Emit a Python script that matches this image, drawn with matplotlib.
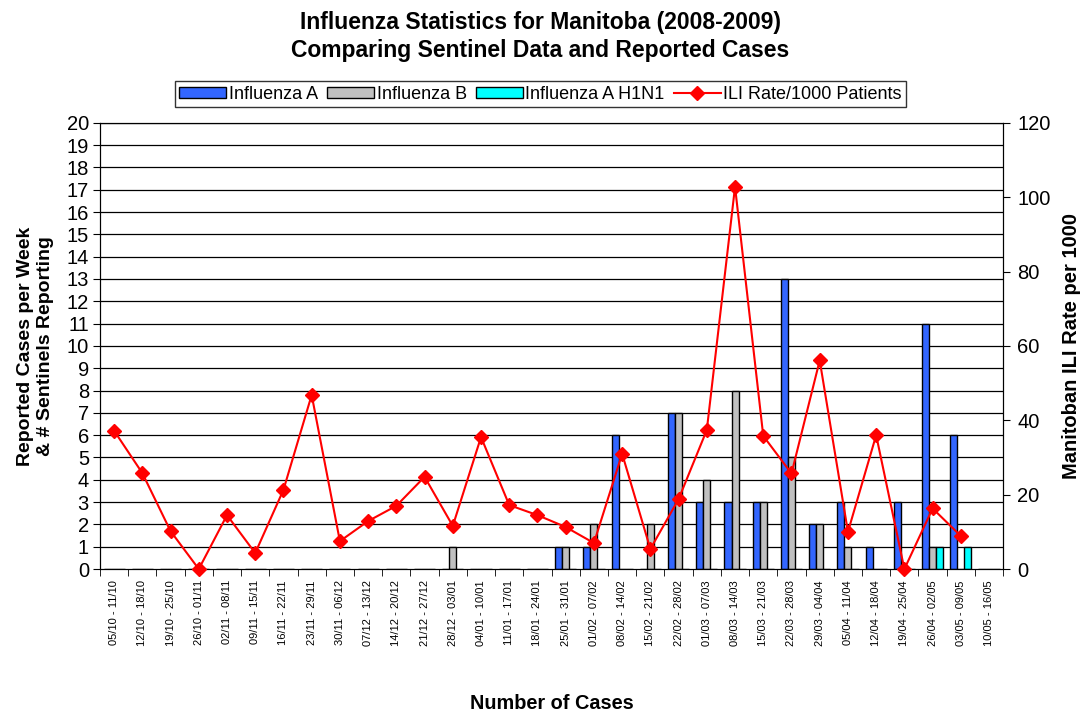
import matplotlib
matplotlib.use('Agg')
import matplotlib.pyplot as plt
import numpy as np

plt.rcParams['font.family'] = ['Liberation Sans', 'DejaVu Sans']

weeks = ['05/10 - 11/10', '12/10 - 18/10', '19/10 - 25/10', '26/10 - 01/11',
         '02/11 - 08/11', '09/11 - 15/11', '16/11 - 22/11', '23/11 - 29/11',
         '30/11 - 06/12', '07/12 - 13/12', '14/12 - 20/12', '21/12 - 27/12',
         '28/12 - 03/01', '04/01 - 10/01', '11/01 - 17/01', '18/01 - 24/01',
         '25/01 - 31/01', '01/02 - 07/02', '08/02 - 14/02', '15/02 - 21/02',
         '22/02 - 28/02', '01/03 - 07/03', '08/03 - 14/03', '15/03 - 21/03',
         '22/03 - 28/03', '29/03 - 04/04', '05/04 - 11/04', '12/04 - 18/04',
         '19/04 - 25/04', '26/04 - 02/05', '03/05 - 09/05', '10/05 - 16/05']

flu_a = [0, 0, 0, 0, 0, 0, 0, 0, 0, 0, 0, 0, 0, 0, 0, 0,
         1, 1, 6, 0, 7, 3, 3, 3, 13, 2, 3, 1, 3, 11, 6, 0]
flu_b = [0, 0, 0, 0, 0, 0, 0, 0, 0, 0, 0, 0, 1, 0, 0, 0,
         1, 2, 0, 2, 7, 4, 8, 3, 5, 2, 1, 0, 0, 1, 0, 0]
flu_h1n1 = [0, 0, 0, 0, 0, 0, 0, 0, 0, 0, 0, 0, 0, 0, 0, 0,
            0, 0, 0, 0, 0, 0, 0, 0, 0, 0, 0, 0, 0, 1, 1, 0]
ili_rate = [37.2, 25.8, 10.2, 0.0, 14.5, 4.3, 21.3, 46.8, 7.5, 12.9, 17.0, 24.8,
            11.6, 35.5, 17.2, 14.5, 11.3, 7.0, 31.0, 5.4, 18.8, 37.4, 102.8, 35.8,
            25.7, 56.1, 10.0, 36.0, 0.0, 16.3, 8.9, np.nan]

x = np.arange(len(weeks))
w = 0.25

fig = plt.figure(figsize=(10.81, 7.14), dpi=100)
ax = fig.add_axes([0.0925, 0.203, 0.8355, 0.625])
ax2 = ax.twinx()

for v in range(1, 21):
    ax.axhline(v, color='black', lw=0.9, zorder=0)

b1 = ax.bar(x - w, flu_a, w, color='#3366FF', edgecolor='black', lw=1, zorder=2)
b2 = ax.bar(x, flu_b, w, color='#C0C0C0', edgecolor='black', lw=1, zorder=2)
b3 = ax.bar(x + w, flu_h1n1, w, color='#00FFFF', edgecolor='black', lw=1, zorder=2)

l1, = ax2.plot(x, ili_rate, color='red', lw=1.5, marker='D', ms=7.5, clip_on=False, zorder=3)

ax.set_xlim(-0.5, len(weeks) - 0.5)
ax.set_ylim(0, 20)
ax2.set_ylim(0, 120)
ax.set_yticks(range(0, 21))
ax2.set_yticks(range(0, 121, 20))

ax.set_xticks(x)
ax.set_xticklabels(weeks, rotation=90, fontsize=8)
ax.set_xticks(np.arange(-0.5, len(weeks)), minor=True)
ax.tick_params(axis='x', which='major', length=0, pad=8)
ax.tick_params(axis='x', which='minor', length=5, direction='out')
ax.tick_params(axis='y', labelsize=14.5, length=5, direction='out', pad=3)
ax2.tick_params(axis='y', labelsize=14.5, length=5, direction='out', pad=5)

ax.set_ylabel('Reported Cases per Week\n& # Sentinels Reporting', fontsize=14, fontweight='bold',
              labelpad=9, linespacing=1.2)
ax2.set_ylabel('Manitoban ILI Rate per 1000', fontsize=14.5, fontweight='bold', labelpad=8)
ax.set_xlabel('Number of Cases', fontsize=14.3, fontweight='bold', labelpad=34)

ax.set_zorder(0)
ax2.set_zorder(1)
ax2.patch.set_visible(False)

fig.suptitle('Influenza Statistics for Manitoba (2008-2009)\nComparing Sentinel Data and Reported Cases',
             fontsize=16.5, fontweight='bold', y=0.985, linespacing=1.3)

leg = fig.legend([b1, b2, b3, l1], ['Influenza A', 'Influenza B', 'Influenza A H1N1', 'ILI Rate/1000 Patients'],
                 loc='center', bbox_to_anchor=(0.5, 0.868), ncol=4, fontsize=13, frameon=True,
                 fancybox=False, edgecolor='black', handlelength=2.6, handleheight=0.6,
                 handletextpad=0.15, columnspacing=0.5, borderpad=0.25, borderaxespad=0)
leg.get_frame().set_linewidth(1)

fig.savefig('out.png', dpi=100)
